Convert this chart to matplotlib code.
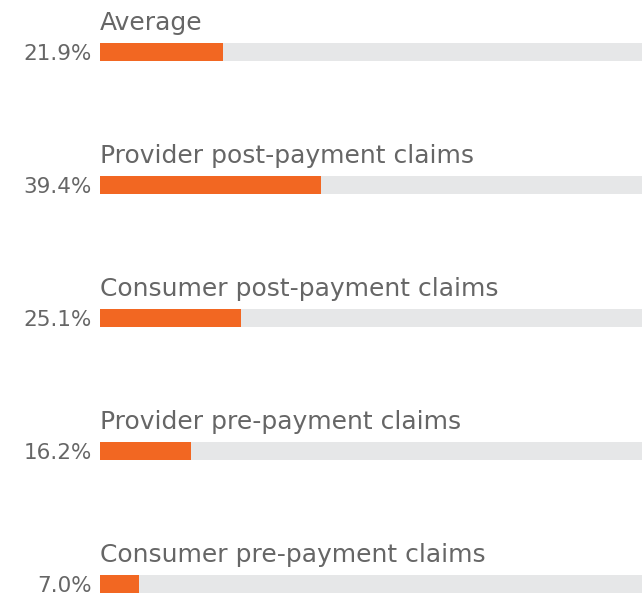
import matplotlib.pyplot as plt

categories = ["Average", "Provider post-payment claims", "Consumer post-payment claims",
              "Provider pre-payment claims", "Consumer pre-payment claims"]
values = [21.9, 39.4, 25.1, 16.2, 7.0]

orange = "#F26722"
track = "#E6E7E8"
text_col = "#666666"

fig = plt.figure(figsize=(6.42, 5.96), dpi=100)
# axes extends past the right edge, the track is cut off like in the original
ax = fig.add_axes([100 / 642, 0, 560 / 642, 1])
ax.set_xlim(0, 100)
ax.set_ylim(4.09, -0.391)
ax.axis("off")

pos = list(range(len(categories)))
h = 18 / 133
ax.barh(pos, [100] * len(pos), height=h, color=track, left=0)
ax.barh(pos, values, height=h, color=orange, left=0)

for i, (cat, v) in enumerate(zip(categories, values)):
    ax.text(0, i - 0.162, cat, fontsize=18, color=text_col, family="DejaVu Sans",
            va="baseline", ha="left")
    ax.text(-1.5, i + 0.06, f"{v:.1f}%", fontsize=15.5, color=text_col, family="DejaVu Sans",
            va="baseline", ha="right")

fig.savefig("out.png", dpi=100)
